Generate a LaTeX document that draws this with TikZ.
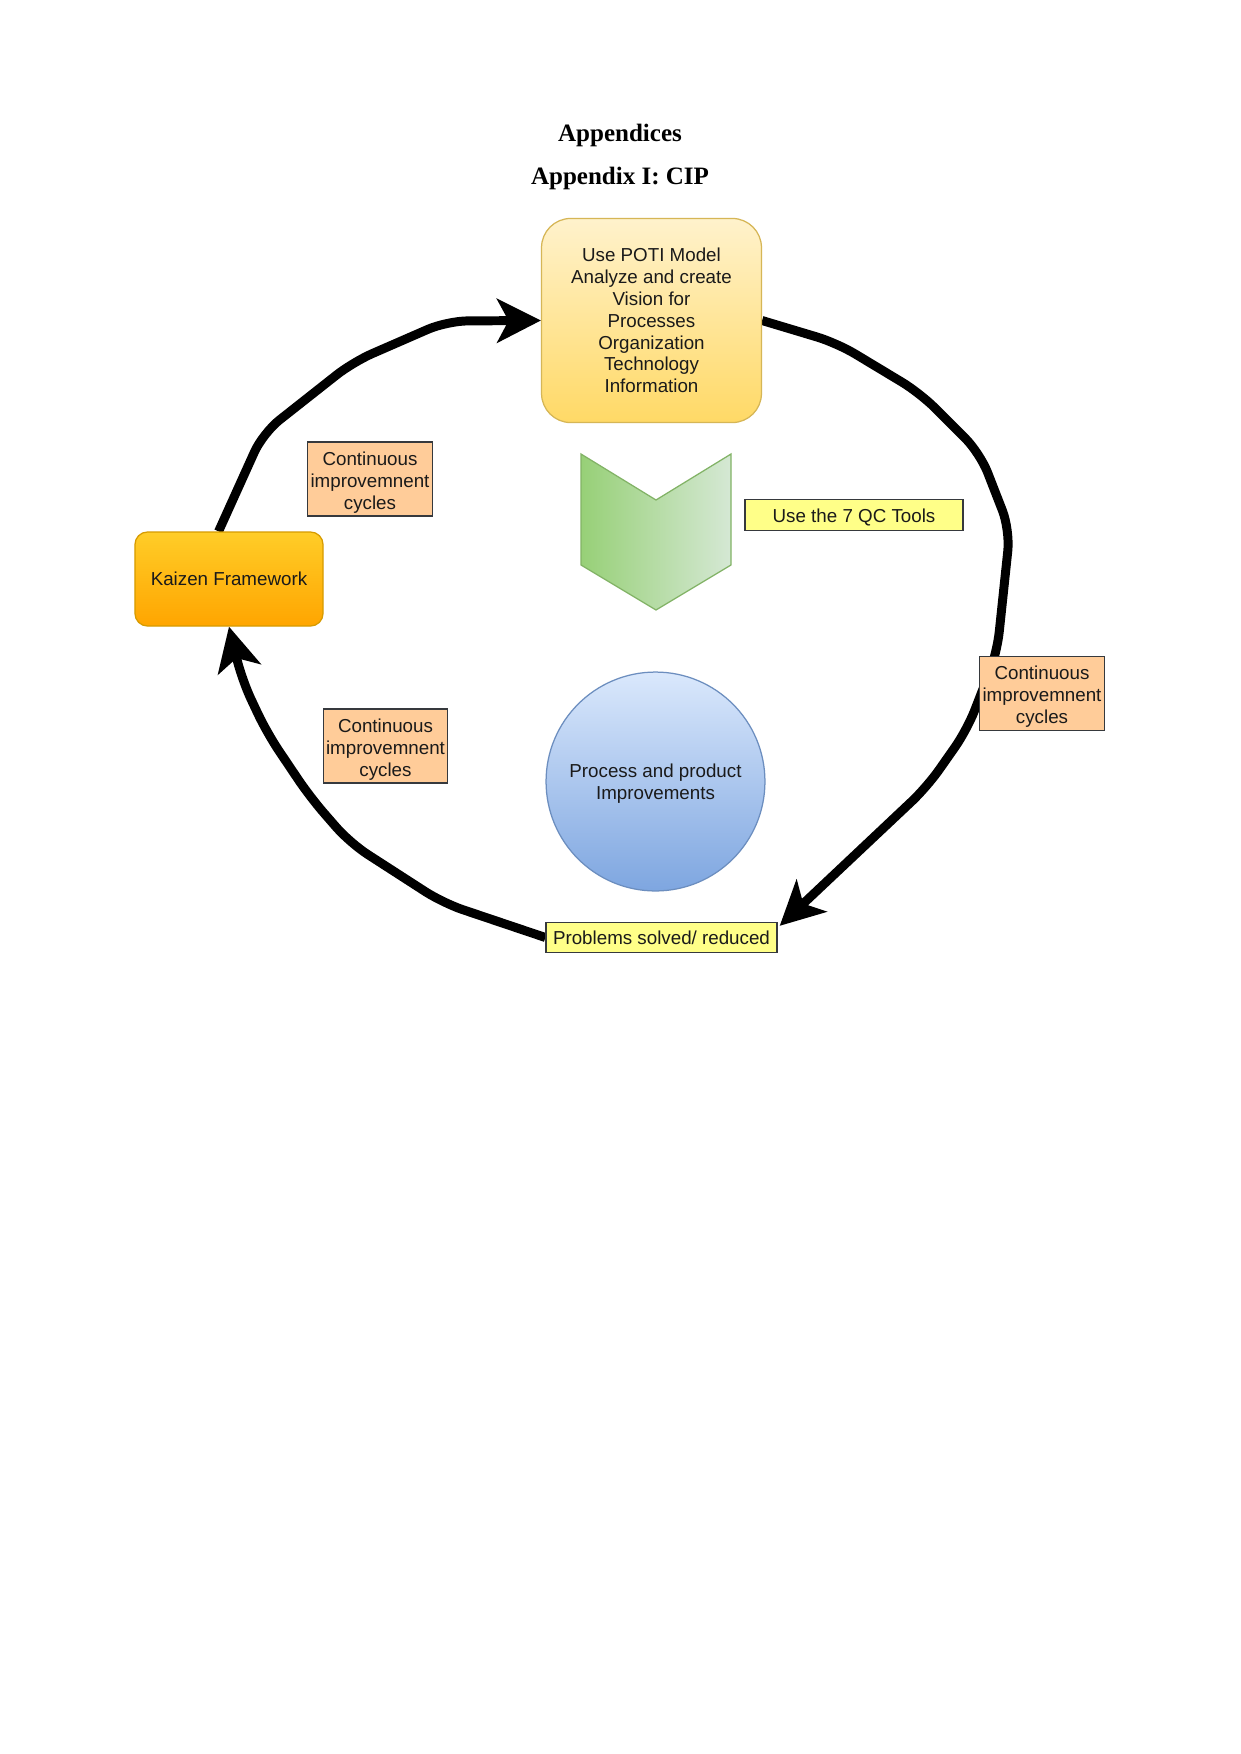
\documentclass[tikz,border=0pt]{standalone}
\usepackage{fontspec}
\setmainfont{Liberation Sans}
\newfontfamily\titlefont{Liberation Serif}
\usetikzlibrary{arrows.meta,backgrounds,shapes.geometric}
\newcommand\tpush[1]{\rule{0pt}{#1}}
\definecolor{potitop}{HTML}{FFF2CC}
\definecolor{potibot}{HTML}{FFD966}
\definecolor{potiline}{HTML}{D6B656}
\definecolor{kaitop}{HTML}{FFCD28}
\definecolor{kaibot}{HTML}{FFA500}
\definecolor{kailine}{HTML}{D79B00}
\definecolor{cifill}{HTML}{FFCC99}
\definecolor{boxline}{HTML}{36393D}
\definecolor{yelfill}{HTML}{FFFF88}
\definecolor{chevleft}{HTML}{97D077}
\definecolor{chevright}{HTML}{D5E8D4}
\definecolor{chevline}{HTML}{82B366}
\definecolor{circtop}{HTML}{DAE8FC}
\definecolor{circbot}{HTML}{7EA6E0}
\definecolor{circline}{HTML}{6C8EBF}
\definecolor{txt}{HTML}{1A1A1A}
\begin{document}
\begin{tikzpicture}[x=0.47967pt, y=-0.47967pt,
  every node/.style={font=\fontsize{9}{10.5}\selectfont, text=txt, align=center, inner sep=0pt},
  potibox/.style={draw=potiline, line width=0.6pt, rounded corners=14pt, top color=potitop, bottom color=potibot, minimum width=105.5pt, minimum height=97.9pt},
  kaibox/.style={draw=kailine, line width=0.6pt, rounded corners=6pt, top color=kaitop, bottom color=kaibot, minimum width=90.2pt, minimum height=45.1pt},
  cibox/.style={draw=boxline, line width=0.6pt, fill=cifill, minimum width=59.8pt, minimum height=35.5pt},
  yelbox/.style={draw=boxline, line width=0.6pt, fill=yelfill, minimum height=14.6pt},
  circnode/.style={circle, draw=circline, line width=0.6pt, top color=circtop, bottom color=circbot, minimum size=105pt},
  titletext/.style={font=\titlefont\bfseries\fontsize{12}{14}\selectfont, text=black},
  flow/.style={line width=4.3pt, black, rounded corners=10pt, -{Stealth[length=21pt, width=21pt, inset=5.5pt]}}
]
\useasboundingbox (0,0) rectangle (1241,1754);

\node[titletext] (t1) at (620,135.5) {Appendices};
\node[titletext] (t2) at (620,178.5) {Appendix I: CIP};

\node[potibox] (poti) at (651.5,320.5) {Use POTI Model\\Analyze and create\\Vision for\\Processes\\Organization\\Technology\\Information};
\node[kaibox] (kaizen) at (229,579) {Kaizen Framework};
\node[cibox] (ci1) at (370,479) {\tpush{9.8pt}Continuous\\improvemnent\\cycles};
\node[cibox] (ci2) at (385.5,746) {\tpush{9.8pt}Continuous\\improvemnent\\cycles};
\node[cibox] (ci3) at (1042,693.5) {\tpush{9.8pt}Continuous\\improvemnent\\cycles};
\node[yelbox, minimum width=104.6pt] (qc) at (854,515) {\tpush{8.8pt}Use the 7 QC Tools};
\node[yelbox, minimum width=110.8pt] (prob) at (661.5,937.5) {Problems solved/ reduced};
\node[circnode] (circ) at (655.5,781.5) {\tpush{8.8pt}Process and product\\Improvements};

\path[draw=chevline, line width=0.6pt, left color=chevleft, right color=chevright]
  (581,454) -- (656,500) -- (731,454) -- (731,565) -- (656,610) -- (581,565) -- cycle;

\begin{scope}[on background layer]
\fill[white] (0,0) rectangle (1241,1754);
\coordinate (a1) at (263,433);
\coordinate (a2) at (353,362);
\coordinate (a3) at (447,321);
\draw[flow] ([xshift=-5pt]kaizen.north) -- (a1) -- (a2) -- (a3) -- (poti.west);
\coordinate (b1) at (837,343);
\coordinate (b2) at (920,393);
\coordinate (b3) at (980,453);
\coordinate (b4) at (1010,530);
\coordinate (b5) at (997,653);
\coordinate (b6) at (967,730);
\coordinate (b7) at (927,787);
\draw[flow] (poti.east) -- (b1) -- (b2) -- (b3) -- (b4) -- (b5) -- (b6) -- (b7) -- ([xshift=1pt,yshift=-2pt]prob.north east);
\coordinate (c1) at (443,903);
\coordinate (c2) at (350,843);
\coordinate (c3) at (310,797);
\coordinate (c4) at (267,733);
\coordinate (c5) at (242,680);
\draw[flow] (prob.west) -- (c1) -- (c2) -- (c3) -- (c4) -- (c5) -- (kaizen.south);
\end{scope}
\end{tikzpicture}
\end{document}
